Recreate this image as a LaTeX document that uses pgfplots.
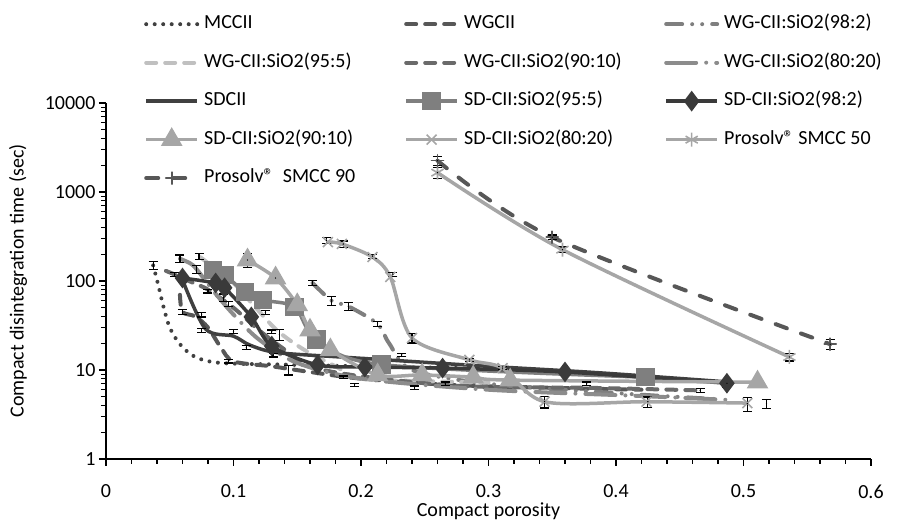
\documentclass[border=0pt]{standalone}
\usepackage{fontspec}
\setmainfont{Carlito}
\usepackage{pgfplots}
\pgfplotsset{compat=1.18}
\definecolor{cMCC}{HTML}{404040}
\definecolor{cWG}{HTML}{575757}
\definecolor{cWG98}{HTML}{7F7F7F}
\definecolor{cWG95}{HTML}{C0C0C0}
\definecolor{cWG90}{HTML}{6A6A6A}
\definecolor{cWG80}{HTML}{8C8C8C}
\definecolor{cSD}{HTML}{404040}
\definecolor{cSD95}{HTML}{7F7F7F}
\definecolor{cSD98}{HTML}{3A3A3A}
\definecolor{cLight}{HTML}{A6A6A6}
\definecolor{cP90}{HTML}{575757}
\newcommand{\lw}[1]{\makebox[195bp][l]{#1}}
\begin{document}
\begin{tikzpicture}[font=\fontsize{20bp}{24bp}\selectfont]
\begin{axis}[
  scale only axis, width=765bp, height=356bp,
  xmin=0, xmax=0.6, ymin=1, ymax=10000, ymode=log,
  axis x line*=bottom, axis y line*=left,
  axis line style={line width=1.3bp, black},
  xtick={0,0.1,0.2,0.3,0.4,0.5,0.6},
  xticklabels={0,0.1,0.2,0.3,0.4,0.5,0.6},
  xticklabel style={yshift=-15bp},
  minor x tick num=4,
  ytick={1,10,100,1000,10000},
  yticklabels={1,10,100,1000,10000},
  tick align=outside, major tick length=7bp, minor tick length=5bp,
  tick style={black, line width=1.1bp},
  /pgf/number format/assume math mode=true,
  xlabel={Compact porosity},
  ylabel={Compact disintegration time (sec)},
  xlabel style={at={(axis description cs:0.5,0)}, anchor=north, yshift=-44bp, inner sep=0pt},
  ylabel style={at={(axis description cs:-0.115,0.5)}, anchor=center, inner sep=0pt},
  legend columns=3,
  legend cell align=left,
  legend style={at={(0.0523,1.2514)}, anchor=north west, draw=none, fill=none, inner sep=0pt,
    column sep=5bp, row sep=17.5bp,
    nodes={anchor=west, text height=13bp, text depth=4bp}},
  legend image code/.code={\path[use as bounding box, draw=none, fill=none] (0bp,-6bp) rectangle (51bp,6bp);
    \draw[mark repeat=2, mark phase=2, #1] plot coordinates {(0bp,0bp) (25.5bp,0bp) (51bp,0bp)};},
  every axis plot/.append style={line width=3.5bp, smooth, tension=0.5},
]
% MCCII
\addplot[color=cMCC, line width=4bp, line cap=round, dash pattern=on 0bp off 8.5bp] coordinates {
(0.037,150) (0.041,90) (0.045,52) (0.05,30) (0.058,19.5) (0.07,14) (0.09,12) (0.14,11.5) (0.2,11) (0.28,10.5)};
\addlegendentry{\lw{MCCII}}
% WGCII
\addplot[color=cWG, line width=4bp, line cap=round, dash pattern=on 10bp off 9bp] coordinates {
(0.058,70) (0.06,45) (0.07,40) (0.08,30) (0.09,18) (0.1,12.5) (0.13,11) (0.16,9.5) (0.2,8) (0.27,6.8) (0.35,6.3) (0.42,6)};
\addlegendentry{\lw{WGCII}}
% WG 98:2
\addplot[color=cWG98, line width=4bp, line cap=round, dash pattern=on 16bp off 10bp on 0bp off 10bp on 0bp off 10bp] coordinates {
(0.162,95) (0.177,60) (0.19,52) (0.213,33) (0.222,20) (0.24,10) (0.3,7) (0.4,5.5) (0.48,4.7)};
\addlegendentry{WG-CII:SiO2(98:2)}
% WG 95:5
\addplot[color=cWG95, line width=4bp, line cap=round, dash pattern=on 10bp off 9bp] coordinates {
(0.074,185) (0.085,140) (0.1,95) (0.115,55) (0.134,28) (0.155,17) (0.18,11) (0.2,8) (0.25,7.5) (0.3,7.2)};
\addlegendentry{\lw{WG-CII:SiO2(95:5)}}
% WG 90:10
\addplot[color=cWG90, line width=4bp, line cap=round, dash pattern=on 10bp off 9bp] coordinates {
(0.047,130) (0.054,118) (0.065,100) (0.08,80) (0.1,50) (0.12,28) (0.14,17) (0.16,11) (0.2,8.5) (0.28,6.6) (0.38,6.3) (0.466,5.9)};
\addlegendentry{\lw{WG-CII:SiO2(90:10)}}
% WG 80:20
\addplot[color=cWG80, line width=4bp, line cap=round, dash pattern=on 30bp off 10bp on 0bp off 10bp] coordinates {
(0.058,178) (0.066,158) (0.071,136) (0.085,75) (0.1,42) (0.12,22) (0.15,12) (0.2,8) (0.3,6) (0.42,5.1) (0.49,4.6)};
\addlegendentry{WG-CII:SiO2(80:20)}
% SDCII
\addplot[color=cSD] coordinates {
(0.06,103) (0.078,29) (0.1,24) (0.113,19) (0.134,15.7) (0.184,14) (0.246,12.3) (0.3,11) (0.387,9.3) (0.49,7.3)};
\addlegendentry{\lw{SDCII}}
% SD 95:5
\addplot[color=cSD95, mark=square*, mark size=7.5bp, mark options={solid}] coordinates {
(0.084,133) (0.093,117) (0.109,75) (0.123,61) (0.148,51) (0.165,22) (0.216,11.5) (0.423,8.3)};
\addlegendentry{\lw{SD-CII:SiO2(95:5)}}
% SD 98:2
\addplot[color=cSD98, mark=diamond*, mark size=7.5bp, mark options={solid}] coordinates {
(0.060,108) (0.086,95) (0.093,84) (0.114,39.5) (0.130,18.6) (0.166,11.4) (0.203,10.8) (0.264,10.5) (0.360,9.5) (0.487,7.1)};
\addlegendentry{SD-CII:SiO2(98:2)}
% SD 90:10
\addplot[color=cLight, mark=triangle*, mark size=9bp, mark options={solid}] coordinates {
(0.111,172) (0.133,108) (0.150,54) (0.160,28) (0.176,16.8) (0.213,8.8) (0.248,8.8) (0.288,8.3) (0.317,7.7) (0.511,7.3)};
\addlegendentry{\lw{SD-CII:SiO2(90:10)}}
% SD 80:20
\addplot[color=cLight, mark=x, mark size=7bp, mark options={solid, line width=1.6bp}] coordinates {
(0.174,274) (0.185,261) (0.209,186) (0.223,111) (0.240,22.9) (0.285,13) (0.311,10.5) (0.344,4.4) (0.424,4.4) (0.503,4.25)};
\addlegendentry{\lw{SD-CII:SiO2(80:20)}}
% Prosolv 50
\addplot[color=cLight, mark=asterisk, mark size=7bp, mark options={solid, line width=1.6bp}] coordinates {
(0.26,1650) (0.358,225) (0.536,14)};
\addlegendentry{Prosolv® SMCC 50}
% Prosolv 90
\addplot[color=cP90, line width=4bp, line cap=round, dash pattern=on 12bp off 15bp, mark=+, mark size=6bp, mark options={solid, line width=1.6bp}] coordinates {
(0.26,2250) (0.35,310) (0.568,19.5)};
\addlegendentry{Prosolv®\ \ SMCC 90}
% error bars
\addplot[forget plot, only marks, mark=*, mark size=0.3bp, line width=0.5bp, black,
  error bars/.cd, y dir=both, y explicit relative, error mark=|,
  error bar style={draw=black, solid, line width=1.2bp},
  error mark options={draw=black, solid, line width=1.2bp, mark size=4.5bp}] coordinates {
(0.037,150) +- (0,0.1)
(0.054,118) +- (0,0.05)
(0.058,178) +- (0,0.1)
(0.071,136) +- (0,0.1)
(0.073,188) +- (0,0.08)
(0.06,45) +- (0,0.06)
(0.08,77) +- (0,0.05)
(0.092,65) +- (0,0.1)
(0.096,55) +- (0,0.06)
(0.075,42) +- (0,0.06)
(0.075,28) +- (0,0.05)
(0.1,27) +- (0,0.05)
(0.11,18) +- (0,0.05)
(0.125,44) +- (0,0.05)
(0.136,25) +- (0,0.15)
(0.131,14.6) +- (0,0.04)
(0.13,27) +- (0,0.04)
(0.096,12.5) +- (0,0.04)
(0.143,10) +- (0,0.12)
(0.162,95) +- (0,0.06)
(0.177,60) +- (0,0.12)
(0.19,52) +- (0,0.1)
(0.213,33) +- (0,0.07)
(0.232,14.8) +- (0,0.04)
(0.186,8.3) +- (0,0.03)
(0.195,6.8) +- (0,0.04)
(0.242,6.3) +- (0,0.05)
(0.266,7) +- (0,0.05)
(0.285,13) +- (0,0.04)
(0.311,10.5) +- (0,0.04)
(0.344,4.4) +- (0,0.15)
(0.377,7) +- (0,0.05)
(0.425,4.4) +- (0,0.13)
(0.466,5.9) +- (0,0.05)
(0.503,4.2) +- (0,0.18)
(0.518,4.2) +- (0,0.12)
(0.568,19.5) +- (0,0.12)
(0.536,14) +- (0,0.1)
(0.35,310) +- (0,0.06)
(0.358,225) +- (0,0.07)
(0.487,7.1) +- (0,0.1)
(0.26,2250) +- (0,0.12)
(0.26,1650) +- (0,0.14)
(0.173,285) +- (0,0.08)
(0.186,260) +- (0,0.08)
(0.209,190) +- (0,0.05)
(0.225,118) +- (0,0.05)
(0.24,22.9) +- (0,0.12)
(0.111,172) +- (0,0.18)
(0.133,108) +- (0,0.04)
};
\end{axis}
\pgfresetboundingbox
\path (-106bp,-62bp) rectangle (791bp,459bp);
\end{tikzpicture}
\end{document}
